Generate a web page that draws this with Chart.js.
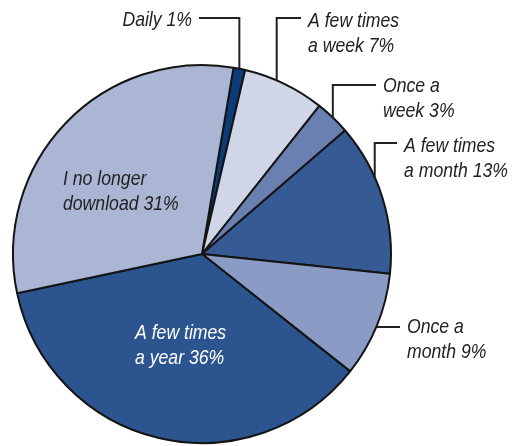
<!DOCTYPE html>
<html>
<head>
<meta charset="utf-8">
<script src="https://cdn.jsdelivr.net/npm/chart.js@4/dist/chart.umd.min.js"></script>
<style>
  html, body { margin: 0; padding: 0; background: #fff; }
  #wrap { width: 513px; height: 446px; position: relative; }
</style>
</head>
<body>
<div id="wrap"><canvas id="freqChart" width="513" height="446"></canvas></div>
<script>
// How often people download
var categories = [
  ["Daily 1%"],
  ["A few times", "a week 7%"],
  ["Once a", "week 3%"],
  ["A few times", "a month 13%"],
  ["Once a", "month 9%"],
  ["A few times", "a year 36%"],
  ["I no longer", "download 31%"]
];
var shares = [1, 7, 3, 13, 9, 36, 31];
var sliceColors = ["#0c3b7a", "#d0d5e8", "#6a80b0", "#355a94", "#8a9cc5", "#2c5590", "#abb6d5"];

// where each label sits; "anchor" is how far along the slice the leader line meets the rim
var labelSpots = [
  { x: 192, y: 26, align: "right", lineY: 18, anchor: 0.5 },
  { x: 308, y: 27, align: "left", lineY: 18, anchor: 0.4 },
  { x: 383, y: 92, align: "left", lineY: 85, anchor: 0.5 },
  { x: 404, y: 152, align: "left", lineY: 143, anchor: 0.36 },
  { x: 407, y: 333, align: "left", lineY: 327, anchor: 0.5, straight: true },
  { x: 135, y: 339, align: "left", inside: true, color: "#ffffff" },
  { x: 63, y: 185, align: "left", inside: true, color: "#222222" }
];

// no condensed face installed, so squeeze a regular italic sideways
var FONT = "italic 21px 'Liberation Sans', Arial, sans-serif";
var SQUEEZE = 0.84;

var sliceLabels = {
  id: "sliceLabels",
  afterDraw: function (chart) {
    var ctx = chart.ctx;
    var arcs = chart.getDatasetMeta(0).data;
    ctx.save();
    ctx.font = FONT;
    ctx.textBaseline = "alphabetic";
    arcs.forEach(function (arc, i) {
      var spot = labelSpots[i];
      var lines = categories[i];
      if (!spot.inside) {
        var a = arc.startAngle + (arc.endAngle - arc.startAngle) * spot.anchor;
        var px = arc.x + arc.outerRadius * Math.cos(a);
        var py = arc.y + arc.outerRadius * Math.sin(a);
        var tx = spot.align === "right" ? spot.x + 7 : spot.x - 7;
        ctx.strokeStyle = "#222";
        ctx.lineWidth = 2;
        ctx.beginPath();
        ctx.moveTo(tx, spot.lineY);
        ctx.lineTo(px, spot.lineY);
        if (!spot.straight) ctx.lineTo(px, py);
        ctx.stroke();
      }
      ctx.fillStyle = spot.color || "#222222";
      ctx.textAlign = spot.align;
      lines.forEach(function (t, k) {
        ctx.save();
        ctx.translate(spot.x, spot.y + k * 25);
        ctx.scale(SQUEEZE, 1);
        ctx.fillText(t, 0, 0);
        ctx.restore();
      });
    });
    ctx.restore();
  }
};

new Chart("freqChart", {
  type: "pie",
  data: {
    labels: categories.map(function (c) { return c.join(" "); }),
    datasets: [{
      data: shares,
      backgroundColor: sliceColors,
      borderColor: "#141414",
      borderWidth: 2
    }]
  },
  options: {
    responsive: false,
    animation: false,
    rotation: 9.6,
    layout: { padding: { left: 12, right: 121, top: 64, bottom: 2 } },
    plugins: {
      legend: { display: false },
      tooltip: { enabled: false }
    }
  },
  plugins: [sliceLabels]
});
</script>
</body>
</html>
